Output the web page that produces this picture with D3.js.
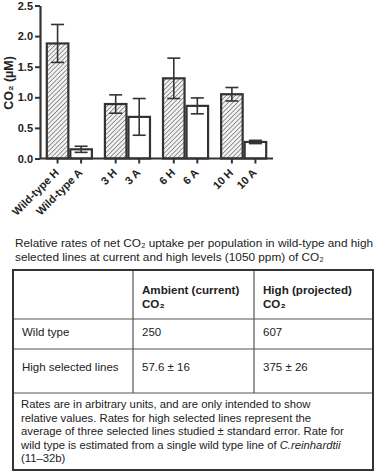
<!DOCTYPE html>
<html><head><meta charset="utf-8">
<script src="https://cdn.jsdelivr.net/npm/d3@7/dist/d3.min.js"></script>
<style>
html,body{margin:0;padding:0;background:#fff;}
svg{display:block;font-family:"Liberation Sans",Arial,sans-serif;}
</style></head>
<body>
<svg id="c" width="378" height="473"></svg>
<script>
// ---- data ----
const groups = ["Wild-type", "3", "6", "10"];
const conditions = ["H", "A"];
const labels = ["Wild-type H", "Wild-type A", "3 H", "3 A", "6 H", "6 A", "10 H", "10 A"];
const means = [1.88, 0.15, 0.89, 0.68, 1.31, 0.86, 1.05, 0.27];
const errors = [0.31, 0.05, 0.15, 0.30, 0.33, 0.13, 0.11, 0.015];
const yTicks = [0.0, 0.5, 1.0, 1.5, 2.0, 2.5];
const yLabel = "CO\u2082 (\u00b5M)";

const captionLines = ["Relative rates of net CO\u2082 uptake per population in wild-type and high",
                      "selected lines at current and high levels (1050 ppm) of CO\u2082"];
const tableHeader = ["", "Ambient (current)|CO\u2082", "High (projected)|CO\u2082"];
const rowNames = ["Wild type", "High selected lines"];
const ambientValues = ["250", "57.6 \u00b1 16"];
const highValues = ["607", "375 \u00b1 26"];
const footnoteLines = [
  "Rates are in arbitrary units, and are only intended to show",
  "relative values. Rates for high selected lines represent the",
  "average of three selected lines studied \u00b1 standard error. Rate for",
  "wild type is estimated from a single wild type line of |C.reinhardtii",
  "(11\u201332b)"
];

// ---- chart ----
const svg = d3.select("#c");
const dark = "#333";
const x0 = 40, x1 = 273, yBase = 158.5, yTop = 5.5;
const y = d3.scaleLinear().domain([0, 2.5]).range([yBase, yTop]);
const gx = d3.scaleBand().domain(groups).range([x0, x1]).paddingInner(0.19).paddingOuter(0.1);
const cx = d3.scaleBand().domain(conditions).range([0, gx.bandwidth()]).padding(0);

const defs = svg.append("defs");
const pat = defs.append("pattern").attr("id", "hatch").attr("patternUnits", "userSpaceOnUse")
  .attr("width", 3.2).attr("height", 3.2).attr("patternTransform", "rotate(45)");
pat.append("rect").attr("width", 3.2).attr("height", 3.2).attr("fill", "#f2f2f2");
pat.append("line").attr("x1", 0).attr("y1", 0).attr("x2", 0).attr("y2", 3.2)
  .attr("stroke", "#3a3a3a").attr("stroke-width", 1);

const bars = labels.map((l, i) => ({
  label: l, g: groups[Math.floor(i / 2)], c: conditions[i % 2], v: means[i], e: errors[i]
}));
const bx = d => gx(d.g) + cx(d.c);
const bw = cx.bandwidth();

svg.append("g").selectAll("rect").data(bars).join("rect")
  .attr("x", d => bx(d) + 1).attr("width", bw - 2)
  .attr("y", d => y(d.v)).attr("height", d => y(0) - y(d.v))
  .attr("fill", d => d.c === "H" ? "url(#hatch)" : "#fff")
  .attr("stroke", dark).attr("stroke-width", 2.2);

// error bars
const eg = svg.append("g").attr("stroke", dark).attr("stroke-width", 1.6).attr("fill", "none");
bars.forEach(d => {
  const c = bx(d) + bw / 2, hw = 6.5;
  const sw = d.e < 0.03 ? 3 : 1.6;
  eg.append("line").attr("x1", c).attr("x2", c).attr("y1", y(d.v + d.e)).attr("y2", y(d.v - d.e));
  eg.append("line").attr("x1", c - hw).attr("x2", c + hw).attr("y1", y(d.v + d.e)).attr("y2", y(d.v + d.e)).attr("stroke-width", sw);
  eg.append("line").attr("x1", c - hw).attr("x2", c + hw).attr("y1", y(d.v - d.e)).attr("y2", y(d.v - d.e)).attr("stroke-width", sw);
});

// y axis
const ya = svg.append("g").attr("transform", `translate(${x0},0)`)
  .call(d3.axisLeft(y).tickValues(yTicks).tickFormat(d3.format(".1f")).tickSize(5).tickSizeOuter(0));
ya.select(".domain").attr("stroke", dark).attr("stroke-width", 2.2);
ya.selectAll(".tick line").attr("stroke", dark).attr("stroke-width", 2);
ya.selectAll(".tick text").attr("font-size", 11).attr("font-weight", "bold").attr("fill", "#222")
  .attr("font-family", "'Liberation Sans',Arial,sans-serif").attr("x", -7);

// x axis
const xs = d3.scaleOrdinal().domain(labels).range(bars.map(d => bx(d) + bw / 2));
svg.append("line").attr("x1", x0).attr("x2", x1).attr("y1", yBase).attr("y2", yBase)
  .attr("stroke", dark).attr("stroke-width", 2.2);
const xt = svg.append("g").selectAll("g").data(labels).join("g")
  .attr("transform", d => `translate(${xs(d)},${yBase})`);
xt.append("line").attr("y1", 0).attr("y2", 5).attr("stroke", dark).attr("stroke-width", 2);
xt.append("text").text(d => d).attr("text-anchor", "end")
  .attr("transform", "translate(2,15) rotate(-45)")
  .attr("font-size", 11).attr("font-weight", "bold").attr("fill", "#222");

// y label
svg.append("text").attr("transform", "translate(13,83) rotate(-90)")
  .attr("text-anchor", "middle").attr("font-size", 12.5).attr("font-weight", "bold").attr("fill", "#222")
  .text(yLabel);

// ---- caption ----
const cap = svg.append("g").attr("font-size", 11.8).attr("fill", "#222");
captionLines.forEach((t, i) => {
  cap.append("text").attr("x", 15).attr("y", 247 + i * 14).text(t);
});

// ---- table ----
const tL = 13, tR = 373, c1 = 133, c2 = 254;
const rowsY = [270, 319, 349, 393, 470];
const tg = svg.append("g");
[c1, c2].forEach(xv => tg.append("line").attr("x1", xv).attr("x2", xv).attr("y1", rowsY[0]).attr("y2", rowsY[3])
  .attr("stroke", "#555").attr("stroke-width", 1.2));
rowsY.slice(1, 4).forEach(yv => tg.append("line").attr("x1", tL).attr("x2", tR).attr("y1", yv).attr("y2", yv)
  .attr("stroke", "#555").attr("stroke-width", 1.2));
tg.append("rect").attr("x", tL).attr("y", rowsY[0]).attr("width", tR - tL).attr("height", rowsY[4] - rowsY[0])
  .attr("fill", "none").attr("stroke", dark).attr("stroke-width", 2);

const colX = [22, c1 + 9, c2 + 9];
tableHeader.forEach((h, i) => {
  if (!h) return;
  const [a, b] = h.split("|");
  tg.append("text").attr("x", colX[i]).attr("y", 294).attr("font-size", 11.6).attr("font-weight", "bold").attr("fill", "#222").text(a);
  tg.append("text").attr("x", colX[i]).attr("y", 308).attr("font-size", 11.6).attr("font-weight", "bold").attr("fill", "#222").text(b);
});
rowNames.forEach((r, i) => {
  const yy = [336, 371][i];
  [r, ambientValues[i], highValues[i]].forEach((t, j) => {
    tg.append("text").attr("x", colX[j]).attr("y", yy).attr("font-size", 11.5).attr("fill", "#222").text(t);
  });
});
footnoteLines.forEach((t, i) => {
  const txt = tg.append("text").attr("x", 21).attr("y", 408 + i * 13.6).attr("font-size", 11.3).attr("fill", "#222");
  const parts = t.split("|");
  txt.append("tspan").text(parts[0]);
  if (parts[1]) txt.append("tspan").attr("font-style", "italic").text(parts[1]);
});
</script>
</body></html>
